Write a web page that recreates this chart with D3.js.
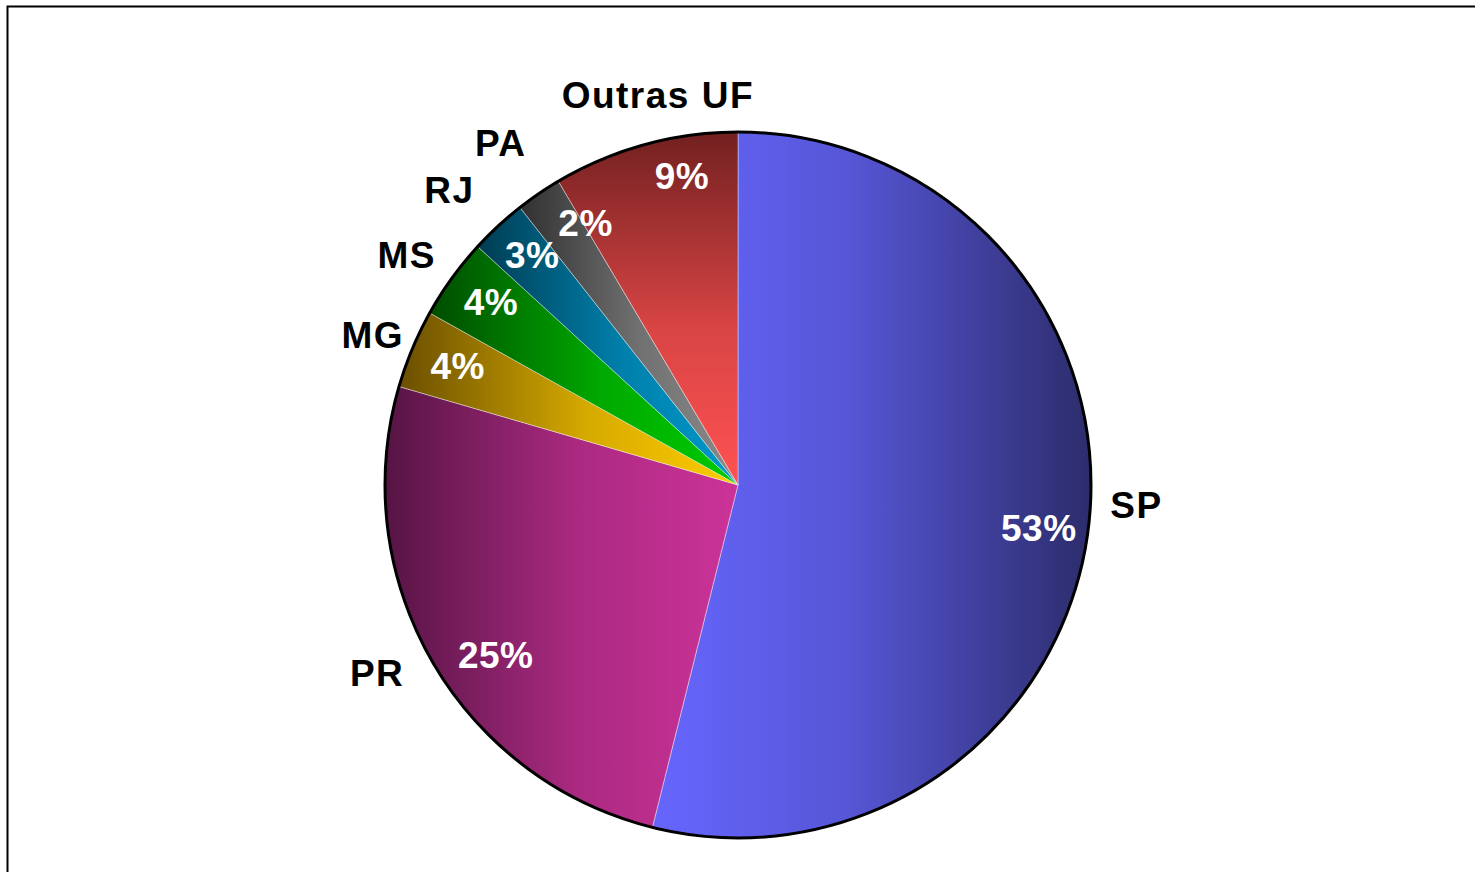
<!DOCTYPE html>
<html>
<head>
<meta charset="utf-8">
<script src="https://cdn.jsdelivr.net/npm/d3@7"></script>
<style>
  body { margin: 0; background: #fff; }
</style>
</head>
<body>
<svg id="chart"></svg>
<script>
const states = ['SP', 'PR', 'MG', 'MS', 'RJ', 'PA', 'Outras UF']
const shares = [53.9, 25.6, 3.6, 3.7, 2.6, 2.1, 8.5]
const pctLabels = ['53%', '25%', '4%', '4%', '3%', '2%', '9%']
// [rim colour, centre colour]
const shades = [
  ['#2c2c6c', '#6666ff'],
  ['#561444', '#cc3399'],
  ['#6a4e00', '#ffcc00'],
  ['#004c00', '#00cc00'],
  ['#003c52', '#0099cc'],
  ['#303030', '#8a8a8a'],
  ['#722020', '#ff5252']
]
// small nudges so the labels sit where the spreadsheet put them
const pctNudge = [[-4, 5], [24, 17], [3, -1], [2, -4], [3, -5], [21, -9], [25, -13]]
const nameNudge = [[-1, -30], [-12, -13], [6, 5], [-5, 5], [-15, 0], [-10, -10], [26, -2]]

let width = 1475
let height = 872
let cx = 738
let cy = 485
let radius = 353

let svg = d3.select('#chart')
  .attr('width', width)
  .attr('height', height)
  .attr('style', 'font-family: Arial, "Liberation Sans", sans-serif; font-weight: bold')

svg.append('rect')
  .attr('x', 7.5)
  .attr('y', 6.5)
  .attr('width', 1490)
  .attr('height', 900)
  .attr('fill', 'white')
  .attr('stroke', 'black')
  .attr('stroke-width', 2)

let pie = d3.pie().sort(null).value(d => d)
let arcs = pie(shares)
let arc = d3.arc().innerRadius(0).outerRadius(radius)
let pctArc = d3.arc().innerRadius(radius * 0.87).outerRadius(radius * 0.87)
let nameArc = d3.arc().innerRadius(radius * 1.14).outerRadius(radius * 1.14)

let defs = svg.append('defs')
arcs.forEach((a, i) => {
  let mid = (a.startAngle + a.endAngle) / 2
  let sx = Math.sin(mid)
  let cyv = -Math.cos(mid)
  let g = defs.append('linearGradient').attr('id', 'grad' + i)
  if (Math.abs(sx) > 0.3) {
    // horizontal: rim on the outer side
    g.attr('x1', sx > 0 ? 1 : 0).attr('x2', sx > 0 ? 0 : 1).attr('y1', 0).attr('y2', 0)
  } else {
    g.attr('y1', cyv > 0 ? 1 : 0).attr('y2', cyv > 0 ? 0 : 1).attr('x1', 0).attr('x2', 0)
  }
  g.append('stop').attr('offset', 0).attr('stop-color', shades[i][0])
  g.append('stop').attr('offset', 0.55).attr('stop-color', d3.interpolateRgb(shades[i][0], shades[i][1])(0.72))
  g.append('stop').attr('offset', 1).attr('stop-color', shades[i][1])
})

let plot = svg.append('g')
  .attr('transform', 'translate(' + cx + ',' + cy + ')')

plot.selectAll('path.slice')
  .data(arcs)
  .enter()
  .append('path')
  .attr('class', 'slice')
  .attr('d', arc)
  .attr('fill', (d, i) => 'url(#grad' + i + ')')
  .attr('stroke', 'white')
  .attr('stroke-width', 0.4)

plot.append('circle')
  .attr('r', radius)
  .attr('fill', 'none')
  .attr('stroke', 'black')
  .attr('stroke-width', 3)

plot.selectAll('text.pct')
  .data(arcs)
  .enter()
  .append('text')
  .attr('class', 'pct')
  .text((d, i) => pctLabels[i])
  .attr('x', (d, i) => pctArc.centroid(d)[0] + pctNudge[i][0])
  .attr('y', (d, i) => pctArc.centroid(d)[1] + pctNudge[i][1])
  .attr('dy', '0.36em')
  .attr('text-anchor', 'middle')
  .attr('fill', 'white')
  .attr('font-size', 37)
  .attr('letter-spacing', 0.5)

plot.selectAll('text.name')
  .data(arcs)
  .enter()
  .append('text')
  .attr('class', 'name')
  .text((d, i) => states[i])
  .attr('x', (d, i) => nameArc.centroid(d)[0] + nameNudge[i][0])
  .attr('y', (d, i) => nameArc.centroid(d)[1] + nameNudge[i][1])
  .attr('dy', '0.36em')
  .attr('text-anchor', 'middle')
  .attr('fill', 'black')
  .attr('font-size', 37)
  .attr('letter-spacing', 1.5)
</script>
</body>
</html>
